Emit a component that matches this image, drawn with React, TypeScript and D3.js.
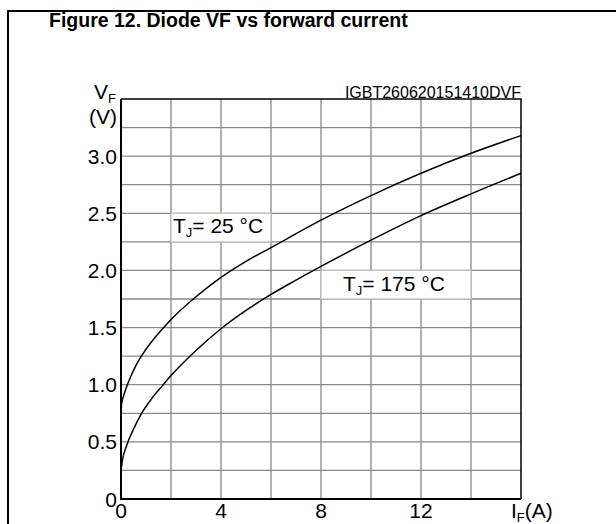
import React, { useEffect, useRef } from "react";
import * as d3 from "d3";

const curve25X = [0, 0.03, 0.1, 0.29, 0.6, 1, 2, 3, 4, 5, 6, 8, 10, 12, 14, 16];
const curve25Y = [0.75, 0.84, 0.9, 1.02, 1.17, 1.31, 1.57, 1.77, 1.94, 2.08, 2.2, 2.44, 2.655, 2.85, 3.025, 3.18];
const curve175X = [0, 0.05, 0.23, 0.5, 0.8, 1.2, 1.65, 2, 3, 4, 5, 6, 7, 8, 10, 12, 14, 16];
const curve175Y = [0.25, 0.33, 0.47, 0.61, 0.74, 0.87, 0.99, 1.08, 1.3, 1.49, 1.65, 1.79, 1.915, 2.035, 2.265, 2.48, 2.67, 2.85];

const xTicks = [0, 4, 8, 12];
const yTicks = [0, 0.5, 1.0, 1.5, 2.0, 2.5, 3.0];
const yTickLabels = ["0", "0.5", "1.0", "1.5", "2.0", "2.5", "3.0"];

const FONT = "'Liberation Sans', Arial, sans-serif";

const App: React.FC = () => {
  const svgRef = useRef<SVGSVGElement | null>(null);

  useEffect(() => {
    const width = 616, height = 524;
    const svg = d3.select(svgRef.current).attr("width", width).attr("height", height);
    svg.selectAll("*").remove();
    svg.attr("font-family", FONT);

    const left = 121, right = 521, top = 99, bottom = 499;
    const x = d3.scaleLinear().domain([0, 16]).range([left, right]);
    const y = d3.scaleLinear().domain([0, 3.5]).range([bottom, top]);

    // outer frame (top + left only visible)
    svg.append("path").attr("d", `M8,${height} V11 H${width}`)
      .attr("fill", "none").attr("stroke", "#000").attr("stroke-width", 2);

    svg.append("text").attr("x", 49).attr("y", 27)
      .attr("font-size", 19.5).attr("font-weight", "bold").text("Figure 12. Diode VF vs forward current");

    // grid
    const g = svg.append("g");
    g.selectAll("line.v").data(d3.range(2, 16, 2)).join("line")
      .attr("x1", d => x(d)).attr("x2", d => x(d)).attr("y1", top).attr("y2", bottom)
      .attr("stroke", "#888").attr("stroke-width", 1.3);
    g.selectAll("line.h").data(d3.range(0.25, 3.5, 0.25)).join("line")
      .attr("y1", d => y(d)).attr("y2", d => y(d)).attr("x1", left).attr("x2", right)
      .attr("stroke", "#888").attr("stroke-width", 1.3);

    // label boxes
    const boxes = [
      { x0: 2, x1: 6, y0: 2.25, y1: 2.5, main: "T", sub: "J", rest: "= 25 °C", tx: 173, ty: 232.5 },
      { x0: 8, x1: 14, y0: 1.75, y1: 2.0, main: "T", sub: "J", rest: "= 175 °C", tx: 343, ty: 290.5 },
    ];
    boxes.forEach(b => {
      svg.append("rect").attr("x", x(b.x0)).attr("y", y(b.y1))
        .attr("width", x(b.x1) - x(b.x0)).attr("height", y(b.y0) - y(b.y1))
        .attr("fill", "#fff").attr("stroke", "#c4c4c4").attr("stroke-width", 1.3);
      const t = svg.append("text").attr("x", b.tx).attr("y", b.ty).attr("font-size", 21);
      t.append("tspan").text(b.main);
      t.append("tspan").attr("font-size", 13).attr("dy", 4).text(b.sub);
      t.append("tspan").attr("dy", -4).text(b.rest);
    });

    // curves
    const line = d3.line<[number, number]>().x(d => x(d[0])).y(d => y(d[1])).curve(d3.curveMonotoneX);
    const pts25 = curve25X.map((v, i) => [v, curve25Y[i]] as [number, number]);
    const pts175 = curve175X.map((v, i) => [v, curve175Y[i]] as [number, number]);
    [pts25, pts175].forEach(p => {
      svg.append("path").attr("d", line(p)!).attr("fill", "none")
        .attr("stroke", "#000").attr("stroke-width", 1.5);
    });

    // plot border
    svg.append("path").attr("d", `M${left},${top} H${right} V${bottom}`)
      .attr("fill", "none").attr("stroke", "#000").attr("stroke-width", 1.5);
    svg.append("path").attr("d", `M${left},${top} V${bottom} H${right}`)
      .attr("fill", "none").attr("stroke", "#000").attr("stroke-width", 2);

    // y tick labels
    svg.selectAll("text.yt").data(yTicks).join("text")
      .attr("x", 117).attr("y", d => y(d) + 7.5).attr("text-anchor", "end")
      .attr("font-size", 21).text((d, i) => yTickLabels[i]);

    // x tick labels
    svg.selectAll("text.xt").data(xTicks).join("text")
      .attr("x", d => x(d)).attr("y", 518).attr("text-anchor", "middle")
      .attr("font-size", 21).text(d => String(d));

    // axis titles
    const vf = svg.append("text").attr("x", 94).attr("y", 99).attr("font-size", 21);
    vf.append("tspan").text("V");
    vf.append("tspan").attr("font-size", 13).attr("dy", 4).text("F");
    svg.append("text").attr("x", 117).attr("y", 124).attr("text-anchor", "end")
      .attr("font-size", 21).text("(V)");

    const iff = svg.append("text").attr("x", 511).attr("y", 518).attr("font-size", 21);
    iff.append("tspan").text("I");
    iff.append("tspan").attr("font-size", 13).attr("dy", 4).text("F");
    iff.append("tspan").attr("dy", -4).text("(A)");

    svg.append("text").attr("x", right).attr("y", 97.5).attr("text-anchor", "end")
      .attr("font-size", 16).text("IGBT260620151410DVF");
  }, []);

  return <svg ref={svgRef} style={{ position: "absolute", left: 0, top: 0, display: "block" }}></svg>;
};

export default App;
